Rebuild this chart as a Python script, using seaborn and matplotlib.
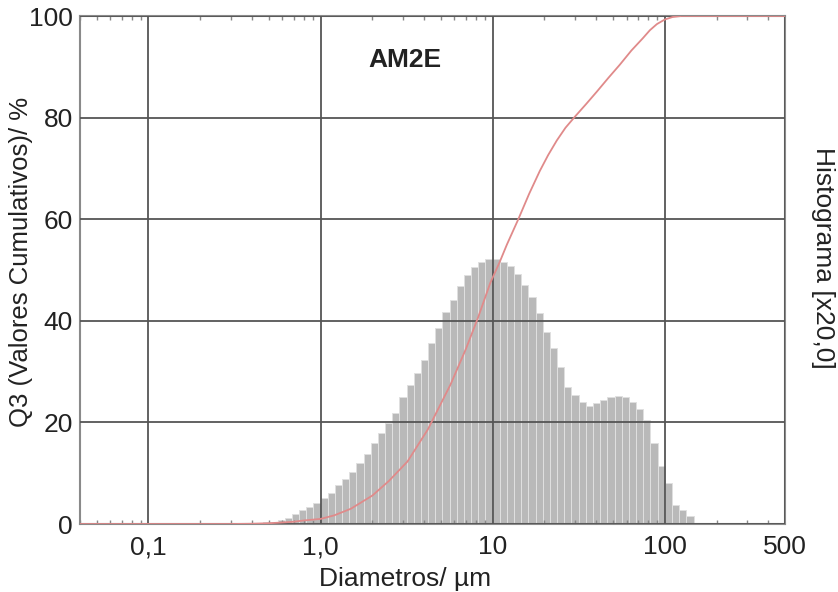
import numpy as np
import pandas as pd
import matplotlib
matplotlib.use("Agg")
import matplotlib.pyplot as plt
import seaborn as sns
from matplotlib.ticker import FixedLocator, FixedFormatter, LogLocator, NullFormatter

# ---- data ----
diametros_hist = [0.442, 0.487, 0.536, 0.590, 0.649, 0.715, 0.787, 0.866, 0.953,
                  1.05, 1.15, 1.27, 1.40, 1.54, 1.69, 1.87, 2.05, 2.26, 2.49, 2.74, 3.01,
                  3.32, 3.65, 4.02, 4.42, 4.87, 5.36, 5.90, 6.49, 7.15, 7.87, 8.66, 9.53,
                  10.5, 11.5, 12.7, 14.0, 15.4, 16.9, 18.7, 20.5, 22.6, 24.9, 27.4, 30.1,
                  33.2, 36.5, 40.2, 44.2, 48.7, 53.6, 59.0, 64.9, 71.5, 78.7, 86.6, 95.3,
                  105, 115, 127, 140]
histograma = [0.2, 0.3, 0.4, 0.7, 1.2, 2.0, 2.8, 3.3, 4.1,
              5.2, 6.2, 7.6, 8.8, 10.2, 12.0, 13.8, 16.0, 18.0, 19.9, 21.8, 25.0,
              27.4, 29.8, 32.3, 35.6, 38.6, 41.8, 44.0, 46.8, 49.0, 50.5, 51.6, 52.2,
              52.1, 51.6, 50.8, 49.2, 47.0, 44.6, 41.5, 37.8, 34.6, 31.0, 27.0, 25.3,
              24.1, 23.2, 23.8, 24.4, 25.0, 25.2, 25.0, 24.0, 22.6, 20.5, 16.0, 11.5,
              8.0, 3.7, 2.8, 1.5]

diametros_cum = [0.04, 0.1, 0.2, 0.3, 0.4, 0.5, 0.6, 0.7, 0.8, 1.0, 1.2, 1.5, 2.0, 2.5,
                 3.2, 4.2, 5.7, 7.0, 8.2, 9.7, 11.0, 12.1, 14.1, 16.3, 18.8, 21.0, 23.6,
                 26.5, 30.1, 35.0, 40.3, 47.0, 54.8, 64.0, 74.5, 82.0, 90.0, 100.0, 111.0,
                 125.0, 150.0, 500.0]
q3_cum = [0, 0, 0, 0, 0.05, 0.15, 0.3, 0.45, 0.7, 1.0, 1.7, 3.0, 5.6, 8.5,
          12.3, 18.6, 27.5, 34.5, 40.5, 47.5, 51.6, 55.0, 60.0, 65.0, 69.5, 72.6, 75.5,
          78.0, 80.2, 82.7, 85.1, 87.8, 90.4, 93.2, 95.6, 97.2, 98.4, 99.3, 99.8,
          100, 100, 100]

x_ticks = [0.1, 1, 10, 100, 500]
x_tick_labels = ["0,1", "1,0", "10", "100", "500"]
y_ticks = [0, 20, 40, 60, 80, 100]
titulo = "AM2E"
x_label = "Diametros/ µm"
y_label = "Q3 (Valores Cumulativos)/ %"
y2_label = "Histograma [x20,0]"

# ---- styling ----
sns.set_theme(style="white")
plt.rcParams['font.family'] = ['Liberation Sans', 'DejaVu Sans']

FS = 19
fig = plt.figure(figsize=(8.38, 5.92), dpi=100)
ax = fig.add_axes([80 / 838, 1 - 524 / 592, 705 / 838, 508 / 592])

hist_df = pd.DataFrame({"d": diametros_hist, "h": histograma})
lc = np.log10(hist_df["d"].to_numpy())
mids = (lc[:-1] + lc[1:]) / 2
edges = np.concatenate([[2 * lc[0] - mids[0]], mids, [2 * lc[-1] - mids[-1]]])

sns.histplot(data=hist_df, x="d", weights="h", bins=edges.tolist(), log_scale=True,
             stat="count", color="#b9b9b9", edgecolor="#e0e0e0", linewidth=0.7,
             alpha=1.0, ax=ax, zorder=1)

cum_df = pd.DataFrame({"d": diametros_cum, "q": q3_cum})
sns.lineplot(data=cum_df, x="d", y="q", color="#e08a8a", linewidth=1.3, ax=ax, zorder=4)

ax.set_xscale("log")
ax.set_xlim(0.04, 500)
ax.set_ylim(0, 100)

ax.xaxis.set_major_locator(FixedLocator(x_ticks))
ax.xaxis.set_major_formatter(FixedFormatter(x_tick_labels))
ax.xaxis.set_minor_locator(LogLocator(base=10, subs=np.arange(2, 10), numticks=20))
ax.xaxis.set_minor_formatter(NullFormatter())
ax.set_yticks(y_ticks)

ax.set_axisbelow(False)
ax.grid(True, which="major", color="#555555", linewidth=1.3, zorder=3)
ax.grid(False, which="minor")

ax.tick_params(axis="x", which="major", length=0, pad=8, labelsize=FS, colors="#222222")
ax.tick_params(axis="x", which="minor", direction="in", length=3, width=1,
               color="#888888", top=True, bottom=True)
ax.tick_params(axis="y", which="major", length=0, pad=5, labelsize=FS, colors="#222222")

for s in ax.spines.values():
    s.set_color("#8a8a8a")
    s.set_linewidth(1.5)
    s.set_visible(True)

ax.set_xlabel(x_label, fontsize=FS, color="#222222")
ax.xaxis.set_label_coords(0.461, -0.085)
ax.set_ylabel(y_label, fontsize=FS - 0.5, color="#222222")
ax.yaxis.set_label_coords(-0.066, 0.516)

ax.text(0.461, 0.913, titulo, transform=ax.transAxes, ha="center", va="center",
        fontsize=FS, fontweight="bold", color="#222222")
fig.text(823 / 838, 1 - 258 / 592, y2_label, rotation=270, ha="center", va="center",
         fontsize=FS, color="#222222")

fig.savefig("out.png", dpi=100, facecolor="white")
